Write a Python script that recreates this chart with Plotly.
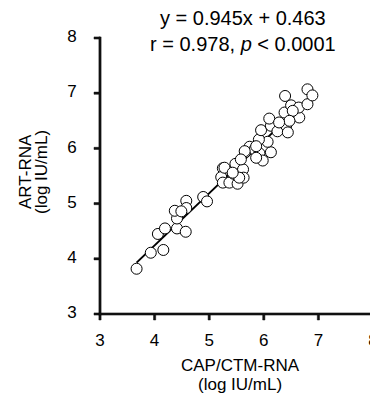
import plotly.graph_objects as go

# CAP/CTM-RNA (x) vs ART-RNA (y), log IU/mL
cap_ctm = [3.67, 3.93, 4.16, 4.06, 4.19, 4.41, 4.57, 4.41, 4.37, 4.58, 4.58, 4.49, 4.89, 4.96,
           5.25, 5.22, 5.25, 5.37, 5.52, 5.45, 5.48, 5.62, 5.63, 5.66, 5.74, 5.83, 5.92, 5.98,
           6.13, 6.07, 5.91, 5.95, 6.13, 6.10, 6.25, 6.41, 6.44, 6.38, 6.50, 6.39, 6.65, 6.64,
           6.80, 6.80, 6.89, 6.53, 6.47, 6.28, 5.86, 5.65, 5.58, 5.86, 5.28, 5.55, 5.43]
art = [3.82, 4.11, 4.16, 4.45, 4.55, 4.55, 4.49, 4.73, 4.87, 5.05, 4.92, 4.86, 5.12, 5.04,
       5.64, 5.48, 5.38, 5.38, 5.36, 5.54, 5.72, 5.62, 5.47, 5.93, 6.03, 5.98, 5.91, 5.78,
       5.93, 6.12, 6.16, 6.33, 6.41, 6.54, 6.31, 6.41, 6.29, 6.65, 6.78, 6.95, 6.56, 6.74,
       6.80, 7.07, 6.96, 6.68, 6.50, 6.47, 6.04, 5.95, 5.80, 5.83, 5.65, 5.47, 5.56]

slope = 0.945
intercept = 0.463
fit_x = [min(cap_ctm), max(cap_ctm)]
fit_y = [slope * v + intercept for v in fit_x]

x_ticks = [3, 4, 5, 6, 7, 8]
y_ticks = [3, 4, 5, 6, 7, 8]
x_tick_labels = ["3", "4", "5", "6", "7", "8"]
y_tick_labels = ["3", "4", "5", "6", "7", "8"]
x_lim = [3, 8]
y_lim = [3, 8]

FONT = "Liberation Sans, Arial, sans-serif"
INK = "#111111"

# page has an 8px body margin, so the figure is sized to fit the window
OFF = 8
W, H = 378 - OFF, 396 - OFF
# frame of the plotting box in figure pixels
L, R, T, B = 100 - OFF, 373 - OFF, 38 - OFF, 314 - OFF
ux = (R - L) / (x_lim[1] - x_lim[0])   # px per unit
uy = (B - T) / (y_lim[1] - y_lim[0])
TICK = 6
HALF = 1.1  # half line width in px

# one axis system spanning the whole figure, so the frame can be drawn as traces
x_range = [x_lim[0] - L / ux, x_lim[1] + (W - R) / ux]
y_range = [y_lim[0] - (H - B) / uy, y_lim[1] + T / uy]

fig = go.Figure()


def add_rect(xs, ys, x0, x1, y0, y1):
    xs += [x0, x1, x1, x0, x0, None]
    ys += [y0, y0, y1, y1, y0, None]


# axis lines and tick marks as thin filled bars
hx, hy = HALF / ux, HALF / uy
bar_x, bar_y = [], []
add_rect(bar_x, bar_y, x_lim[0] - hx, x_lim[1] + hx, y_lim[0] - hy, y_lim[0] + hy)
add_rect(bar_x, bar_y, x_lim[0] - hx, x_lim[0] + hx, y_lim[0] - hy, y_lim[1] + hy)
for t in x_ticks:
    add_rect(bar_x, bar_y, t - hx, t + hx, y_lim[0] - TICK / uy, y_lim[0])
for t in y_ticks:
    add_rect(bar_x, bar_y, x_lim[0] - TICK / ux, x_lim[0], t - hy, t + hy)
fig.add_trace(go.Scatter(
    x=bar_x, y=bar_y, mode="lines", fill="toself", fillcolor=INK,
    line=dict(color=INK, width=0.5), showlegend=False, hoverinfo="skip",
))

fig.add_trace(go.Scatter(
    x=fit_x, y=fit_y, mode="lines",
    line=dict(color="black", width=2), showlegend=False,
))
fig.add_trace(go.Scatter(
    x=cap_ctm, y=art, mode="markers",
    marker=dict(size=11, color="white", line=dict(color="black", width=1)),
    showlegend=False,
))

# tick labels as text placed through the axis scales
fig.add_trace(go.Scatter(
    x=x_ticks, y=[y_lim[0] - 28 / uy] * len(x_ticks), mode="text",
    text=x_tick_labels, textposition="middle center", cliponaxis=False,
    textfont=dict(size=17, family=FONT, color="black"),
    showlegend=False, hoverinfo="skip",
))
fig.add_trace(go.Scatter(
    x=[x_lim[0] - 28 / ux] * len(y_ticks), y=y_ticks, mode="text",
    text=y_tick_labels, textposition="middle center", cliponaxis=False,
    textfont=dict(size=17, family=FONT, color="black"),
    showlegend=False, hoverinfo="skip",
))

hidden = dict(showgrid=False, zeroline=False, showline=False, showticklabels=False,
              ticks="", fixedrange=True)
fig.update_xaxes(range=x_range, **hidden)
fig.update_yaxes(range=y_range, **hidden)


def ann(text, x, y, size, angle=0):
    # x, y in page pixels
    return dict(text=text, x=(x - OFF) / W, y=1 - (y - OFF) / H, xref="paper", yref="paper",
                xanchor="center", yanchor="middle", showarrow=False,
                textangle=angle, font=dict(size=size, family=FONT, color="black"))


fig.update_layout(
    width=W, height=H,
    margin=dict(l=0, r=0, t=0, b=0, pad=0),
    plot_bgcolor="white", paper_bgcolor="white",
    font=dict(family=FONT, color="black"),
    annotations=[
        ann("y = 0.945x + 0.463", 243, 18, 20),
        ann("r = 0.978, <i>p</i> < 0.0001", 243, 44, 20),
        ann("CAP/CTM-RNA", 240, 365, 17),
        ann("(log IU/mL)", 240, 384, 17),
        ann("ART-RNA", 25, 172, 17, -90),
        ann("(log IU/mL)", 41, 172, 17, -90),
    ],
)

fig.write_html("out.html")
